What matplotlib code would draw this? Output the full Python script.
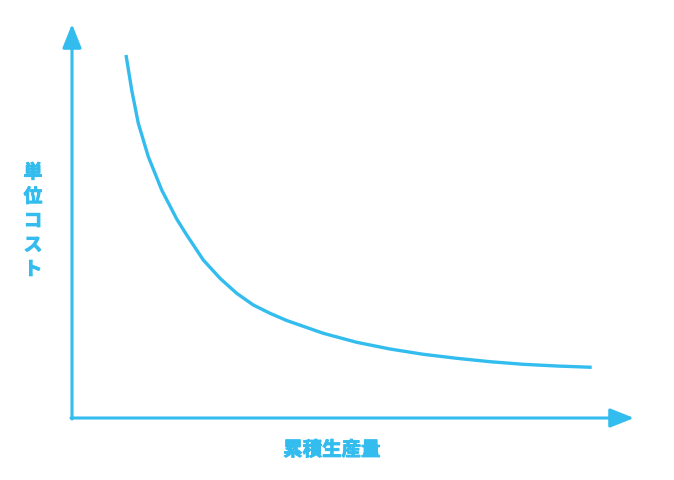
import matplotlib.pyplot as plt
import matplotlib.patheffects as pe

# 経験曲線（単位コスト vs 累積生産量）
COLOR = '#33BCEE'
plt.rcParams['font.family'] = ['Noto Sans CJK JP', 'DejaVu Sans']

production = [54, 59.7, 66.3, 76.3, 89.7, 104.7, 114.7, 131.3, 148, 164.7, 181.3, 198,
              214.7, 251.3, 284.7, 318, 351.3, 384.7, 418, 451.3, 484.7, 519.7]
unit_cost = [363, 328, 294.7, 261.3, 228, 199, 183, 158, 139.7, 124.7, 113, 104.7,
             97.5, 84.7, 75.7, 69, 63.7, 59.7, 56.3, 53.7, 52, 50.7]

x_label = '累積生産量'
y_label = '単位コスト'

fig = plt.figure(figsize=(6.74, 4.8), dpi=100)
ax = fig.add_axes([72 / 674, 62 / 480, 562 / 674, 394 / 480])
ax.set_xlim(0, 562)
ax.set_ylim(0, 394)
ax.axis('off')

ax.plot(production, unit_cost, color=COLOR, lw=2.4, solid_capstyle='butt',
        solid_joinstyle='round', clip_on=False)

arrow = dict(arrowstyle='-|>,head_length=1.45,head_width=0.58', color=COLOR,
             lw=2.2, shrinkA=0, shrinkB=0)
ax.annotate('', xy=(562, 0), xytext=(-1, 0), arrowprops=arrow, annotation_clip=False)
ax.annotate('', xy=(0, 394), xytext=(0, -1), arrowprops=arrow, annotation_clip=False)

heavy = [pe.withStroke(linewidth=0.7, foreground=COLOR)]
ax.text(260, -32, x_label, color=COLOR, fontsize=14, fontweight='bold',
        ha='center', va='center', clip_on=False, path_effects=heavy)
ax.text(-39, 197, '\n'.join(y_label), color=COLOR, fontsize=13.5, fontweight='bold',
        ha='center', va='center', linespacing=1.35, clip_on=False, path_effects=heavy)

fig.savefig('out.png', dpi=100)
